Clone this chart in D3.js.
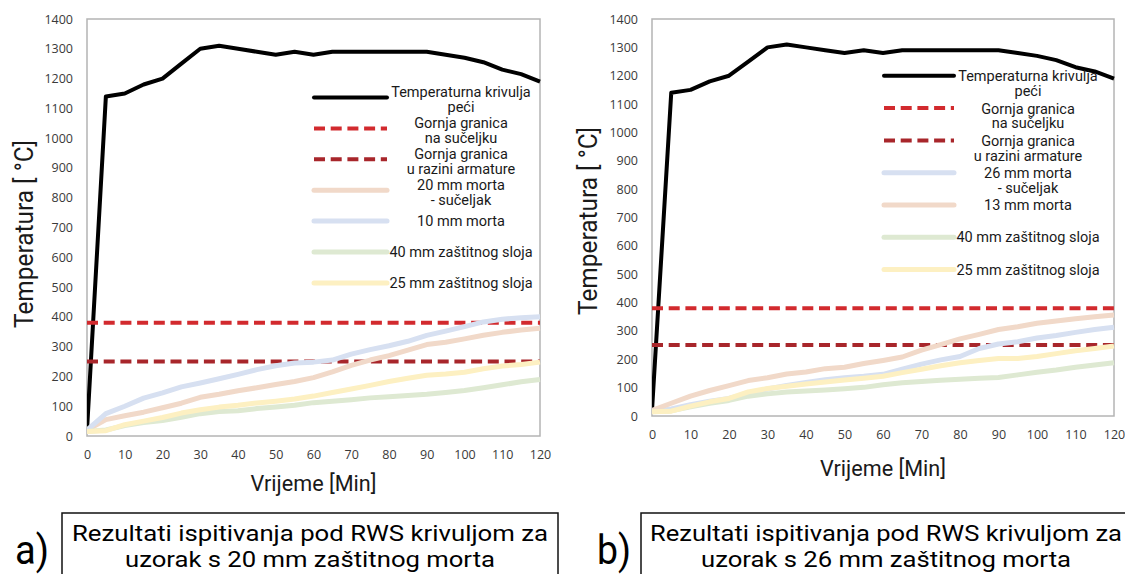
<!DOCTYPE html>
<html>
<head>
<meta charset="utf-8">
<script src="https://cdn.jsdelivr.net/npm/d3@7"></script>
<style>
  html, body { margin: 0; padding: 0; background: #fff; }
  svg { display: block; }
</style>
</head>
<body>
<svg id="fig" width="1125" height="574"></svg>
<script>
// ---- shared axis data ----
const minutes = [0, 5, 10, 15, 20, 25, 30, 35, 40, 45, 50, 55, 60, 65, 70, 75, 80, 85, 90, 95, 100, 105, 110, 115, 120];
const yTicks = [0, 100, 200, 300, 400, 500, 600, 700, 800, 900, 1000, 1100, 1200, 1300, 1400];
const xTicks = [0, 10, 20, 30, 40, 50, 60, 70, 80, 90, 100, 110, 120];

// furnace temperature (RWS curve as measured)
const furnaceCurve = [20, 1140, 1150, 1180, 1200, 1250, 1300, 1310, 1300, 1290, 1280, 1290, 1280, 1290, 1290, 1290, 1290, 1290, 1290, 1280, 1270, 1255, 1230, 1215, 1190];

// limit lines
const limitMinutes = [0, 120];
const limitInterface = [380, 380];
const limitRebar = [250, 250];

// ---- panel a: 20 mm mortar specimen ----
const aMortar20Joint = [20, 55, 68, 80, 95, 110, 130, 140, 152, 162, 173, 183, 196, 215, 237, 255, 270, 288, 307, 315, 326, 338, 348, 356, 362];
const aMortar10 = [20, 75, 100, 127, 145, 165, 178, 192, 207, 223, 236, 245, 248, 255, 275, 290, 303, 318, 338, 352, 367, 383, 392, 397, 400];
const aCover40 = [15, 20, 35, 45, 52, 63, 75, 82, 85, 92, 97, 103, 112, 117, 122, 128, 132, 136, 140, 146, 153, 162, 172, 182, 190];
const aCover25 = [15, 18, 38, 50, 62, 77, 88, 97, 103, 111, 117, 124, 134, 146, 158, 170, 183, 194, 204, 208, 214, 226, 235, 240, 248];

// ---- panel b: 26 mm mortar specimen ----
const bMortar26Joint = [15, 25, 40, 52, 62, 80, 95, 108, 118, 128, 135, 140, 147, 165, 183, 198, 210, 238, 254, 262, 275, 284, 295, 305, 313];
const bMortar13 = [20, 45, 70, 90, 107, 125, 135, 148, 155, 167, 172, 185, 196, 208, 232, 252, 272, 288, 305, 315, 327, 335, 343, 350, 356];
const bCover40 = [15, 18, 32, 45, 55, 70, 78, 85, 88, 92, 96, 101, 110, 117, 122, 126, 130, 133, 136, 145, 154, 162, 172, 180, 188];
const bCover25 = [15, 17, 35, 50, 62, 85, 97, 105, 113, 120, 127, 133, 140, 153, 165, 177, 188, 196, 203, 203, 210, 220, 230, 238, 247];

// legend / caption texts
const labelFurnace = ["Temperaturna krivulja", "peći"];
const labelInterface = ["Gornja granica", "na sučeljku"];
const labelRebar = ["Gornja granica", "u razini armature"];
const aLabels = [["20 mm morta", "- sučeljak"], ["10 mm morta"], ["40 mm zaštitnog sloja"], ["25 mm zaštitnog sloja"]];
const bLabels = [["26 mm morta", "- sučeljak"], ["13 mm morta"], ["40 mm zaštitnog sloja"], ["25 mm zaštitnog sloja"]];
const captionA = ["Rezultati ispitivanja pod RWS krivuljom za", "uzorak s 20 mm zaštitnog morta"];
const captionB = ["Rezultati ispitivanja pod RWS krivuljom za", "uzorak s 26 mm zaštitnog morta"];

// ---- styles ----
const C = {
  furnace: "#000000",
  interface: "#d22a2e",
  rebar: "#a8262b",
  peach: "#f1d9c9",
  blue: "#d7e0f1",
  green: "#dee9d2",
  yellow: "#fdf0c2",
  frame: "#b4b4b4",
  tick: "#3a3a3a",
  text: "#1a1a1a"
};
const TEXT_FONT = "Roboto, 'Open Sans', sans-serif";
const TICK_FONT = "'Open Sans', 'Noto Sans', sans-serif";

const svg = d3.select("#fig");

function drawPanel(cfg) {
  const g = svg.append("g");
  const x = d3.scaleLinear().domain([0, 120]).range([cfg.left, cfg.right]);
  const y = d3.scaleLinear().domain([0, 1400]).range([cfg.bottom, cfg.top]);

  // plot area frame
  g.append("rect")
    .attr("x", cfg.left).attr("y", cfg.top)
    .attr("width", cfg.right - cfg.left).attr("height", cfg.bottom - cfg.top)
    .attr("fill", "none").attr("stroke", C.frame).attr("stroke-width", 1.5);

  // axes (labels only)
  const ya = g.append("g").attr("transform", `translate(${cfg.left},0)`)
    .call(d3.axisLeft(y).tickValues(yTicks).tickFormat(d3.format("d")).tickSize(0).tickPadding(14));
  const xa = g.append("g").attr("transform", `translate(0,${cfg.bottom})`)
    .call(d3.axisBottom(x).tickValues(xTicks).tickFormat(d3.format("d")).tickSize(0).tickPadding(14));
  [ya, xa].forEach(a => {
    a.select(".domain").remove();
    a.selectAll("text").attr("font-family", TICK_FONT).attr("font-size", 12.5).attr("fill", C.tick);
  });

  const line = d3.line().x(d => x(d[0])).y(d => y(d[1]));
  const clipId = "clip" + cfg.id;
  svg.append("clipPath").attr("id", clipId).append("rect")
    .attr("x", cfg.left).attr("y", cfg.top - 4)
    .attr("width", cfg.right - cfg.left + 3).attr("height", cfg.bottom - cfg.top + 4);
  const plot = g.append("g").attr("clip-path", `url(#${clipId})`);

  cfg.series.forEach(s => {
    plot.append("path")
      .datum(s.xs.map((m, i) => [m, s.values[i]]))
      .attr("d", line)
      .attr("fill", "none")
      .attr("stroke", s.color)
      .attr("stroke-width", s.width)
      .attr("stroke-linejoin", "round")
      .attr("stroke-dasharray", s.dash || null);
  });

  // legend
  const lg = g.append("g");
  cfg.legendOrder.forEach((idx, i) => {
    const s = cfg.series[idx];
    const ly = cfg.legend.y0 + i * cfg.legend.step;
    lg.append("line")
      .attr("x1", cfg.legend.x1).attr("x2", cfg.legend.x2)
      .attr("y1", ly).attr("y2", ly)
      .attr("stroke", s.color).attr("stroke-width", s.width)
      .attr("stroke-linecap", s.dash ? "butt" : "round")
      .attr("stroke-dasharray", s.dash || null);
    const lines = s.label;
    const off = lines.length > 1 ? cfg.legend.multiOffset : 0;
    lines.forEach((t, j) => {
      lg.append("text")
        .attr("x", cfg.legend.tx)
        .attr("y", ly + off + j * 14.8)
        .attr("dy", "0.35em")
        .attr("text-anchor", "middle")
        .attr("font-family", TEXT_FONT)
        .attr("font-size", 14.5)
        .attr("fill", C.text)
        .text(t);
    });
  });

  // axis titles
  g.append("text")
    .attr("transform", `translate(${cfg.yTitle[0]},${cfg.yTitle[1]}) rotate(-90)`)
    .attr("text-anchor", "middle").attr("dy", "0.35em")
    .attr("font-family", TEXT_FONT).attr("font-size", 25).attr("fill", C.text)
    .attr("textLength", 188).attr("lengthAdjust", "spacingAndGlyphs")
    .text("Temperatura [ °C]");
  g.append("text")
    .attr("x", (cfg.left + cfg.right) / 2).attr("y", cfg.xTitleY)
    .attr("text-anchor", "middle").attr("dy", "0.35em")
    .attr("font-family", TEXT_FONT).attr("font-size", 22).attr("fill", C.text)
    .attr("textLength", 126).attr("lengthAdjust", "spacingAndGlyphs")
    .text("Vrijeme [Min]");

  // caption box
  const cb = cfg.caption;
  g.append("rect")
    .attr("x", cb.x).attr("y", cb.y).attr("width", cb.w).attr("height", 80)
    .attr("fill", "none").attr("stroke", "#111").attr("stroke-width", 1.5);
  cb.lines.forEach((t, j) => {
    g.append("text")
      .attr("x", cb.cx).attr("y", cb.y + 20 + j * 26.5)
      .attr("dy", "0.35em").attr("text-anchor", "middle")
      .attr("font-family", TEXT_FONT).attr("font-size", 22.5).attr("fill", "#000")
      .attr("textLength", cb.widths[j]).attr("lengthAdjust", "spacingAndGlyphs")
      .text(t);
  });
  g.append("text")
    .attr("x", cb.tagX).attr("y", 550)
    .attr("dy", "0.35em").attr("text-anchor", "middle")
    .attr("font-family", TEXT_FONT).attr("font-size", 40).attr("fill", "#000")
    .attr("textLength", 34).attr("lengthAdjust", "spacingAndGlyphs")
    .text(cb.tag);
}

function baseSeries(extra) {
  return [
    { xs: minutes, values: furnaceCurve, color: C.furnace, width: 4, label: labelFurnace },
    { xs: limitMinutes, values: limitInterface, color: C.interface, width: 4, dash: "11,5.7", label: labelInterface },
    { xs: limitMinutes, values: limitRebar, color: C.rebar, width: 4, dash: "11,5.7", label: labelRebar }
  ].concat(extra);
}

drawPanel({
  id: "a", left: 87, right: 540, top: 19, bottom: 436,
  series: baseSeries([
    { xs: minutes, values: aMortar20Joint, color: C.peach, width: 5, label: aLabels[0] },
    { xs: minutes, values: aMortar10, color: C.blue, width: 5, label: aLabels[1] },
    { xs: minutes, values: aCover40, color: C.green, width: 5, label: aLabels[2] },
    { xs: minutes, values: aCover25, color: C.yellow, width: 5, label: aLabels[3] }
  ]),
  legendOrder: [0, 1, 2, 3, 4, 5, 6],
  legend: { x1: 314, x2: 387, tx: 461, y0: 97.5, step: 30.9, multiOffset: -5.5 },
  yTitle: [24, 234], xTitleY: 483,
  caption: { x: 62, y: 513, w: 496, cx: 310, lines: captionA, widths: [476, 370], tag: "a)", tagX: 32 }
});

drawPanel({
  id: "b", left: 652, right: 1114, top: 19, bottom: 416,
  series: baseSeries([
    { xs: minutes, values: bMortar26Joint, color: C.blue, width: 5, label: bLabels[0] },
    { xs: minutes, values: bMortar13, color: C.peach, width: 5, label: bLabels[1] },
    { xs: minutes, values: bCover40, color: C.green, width: 5, label: bLabels[2] },
    { xs: minutes, values: bCover25, color: C.yellow, width: 5, label: bLabels[3] }
  ]),
  legendOrder: [0, 1, 2, 3, 4, 5, 6],
  legend: { x1: 884, x2: 954, tx: 1028, y0: 75.8, step: 32.3, multiOffset: 0.5 },
  yTitle: [588, 221], xTitleY: 468,
  caption: { x: 641, y: 513, w: 500, cx: 886, lines: captionB, widths: [472, 370], tag: "b)", tagX: 614 }
});
</script>
</body>
</html>
